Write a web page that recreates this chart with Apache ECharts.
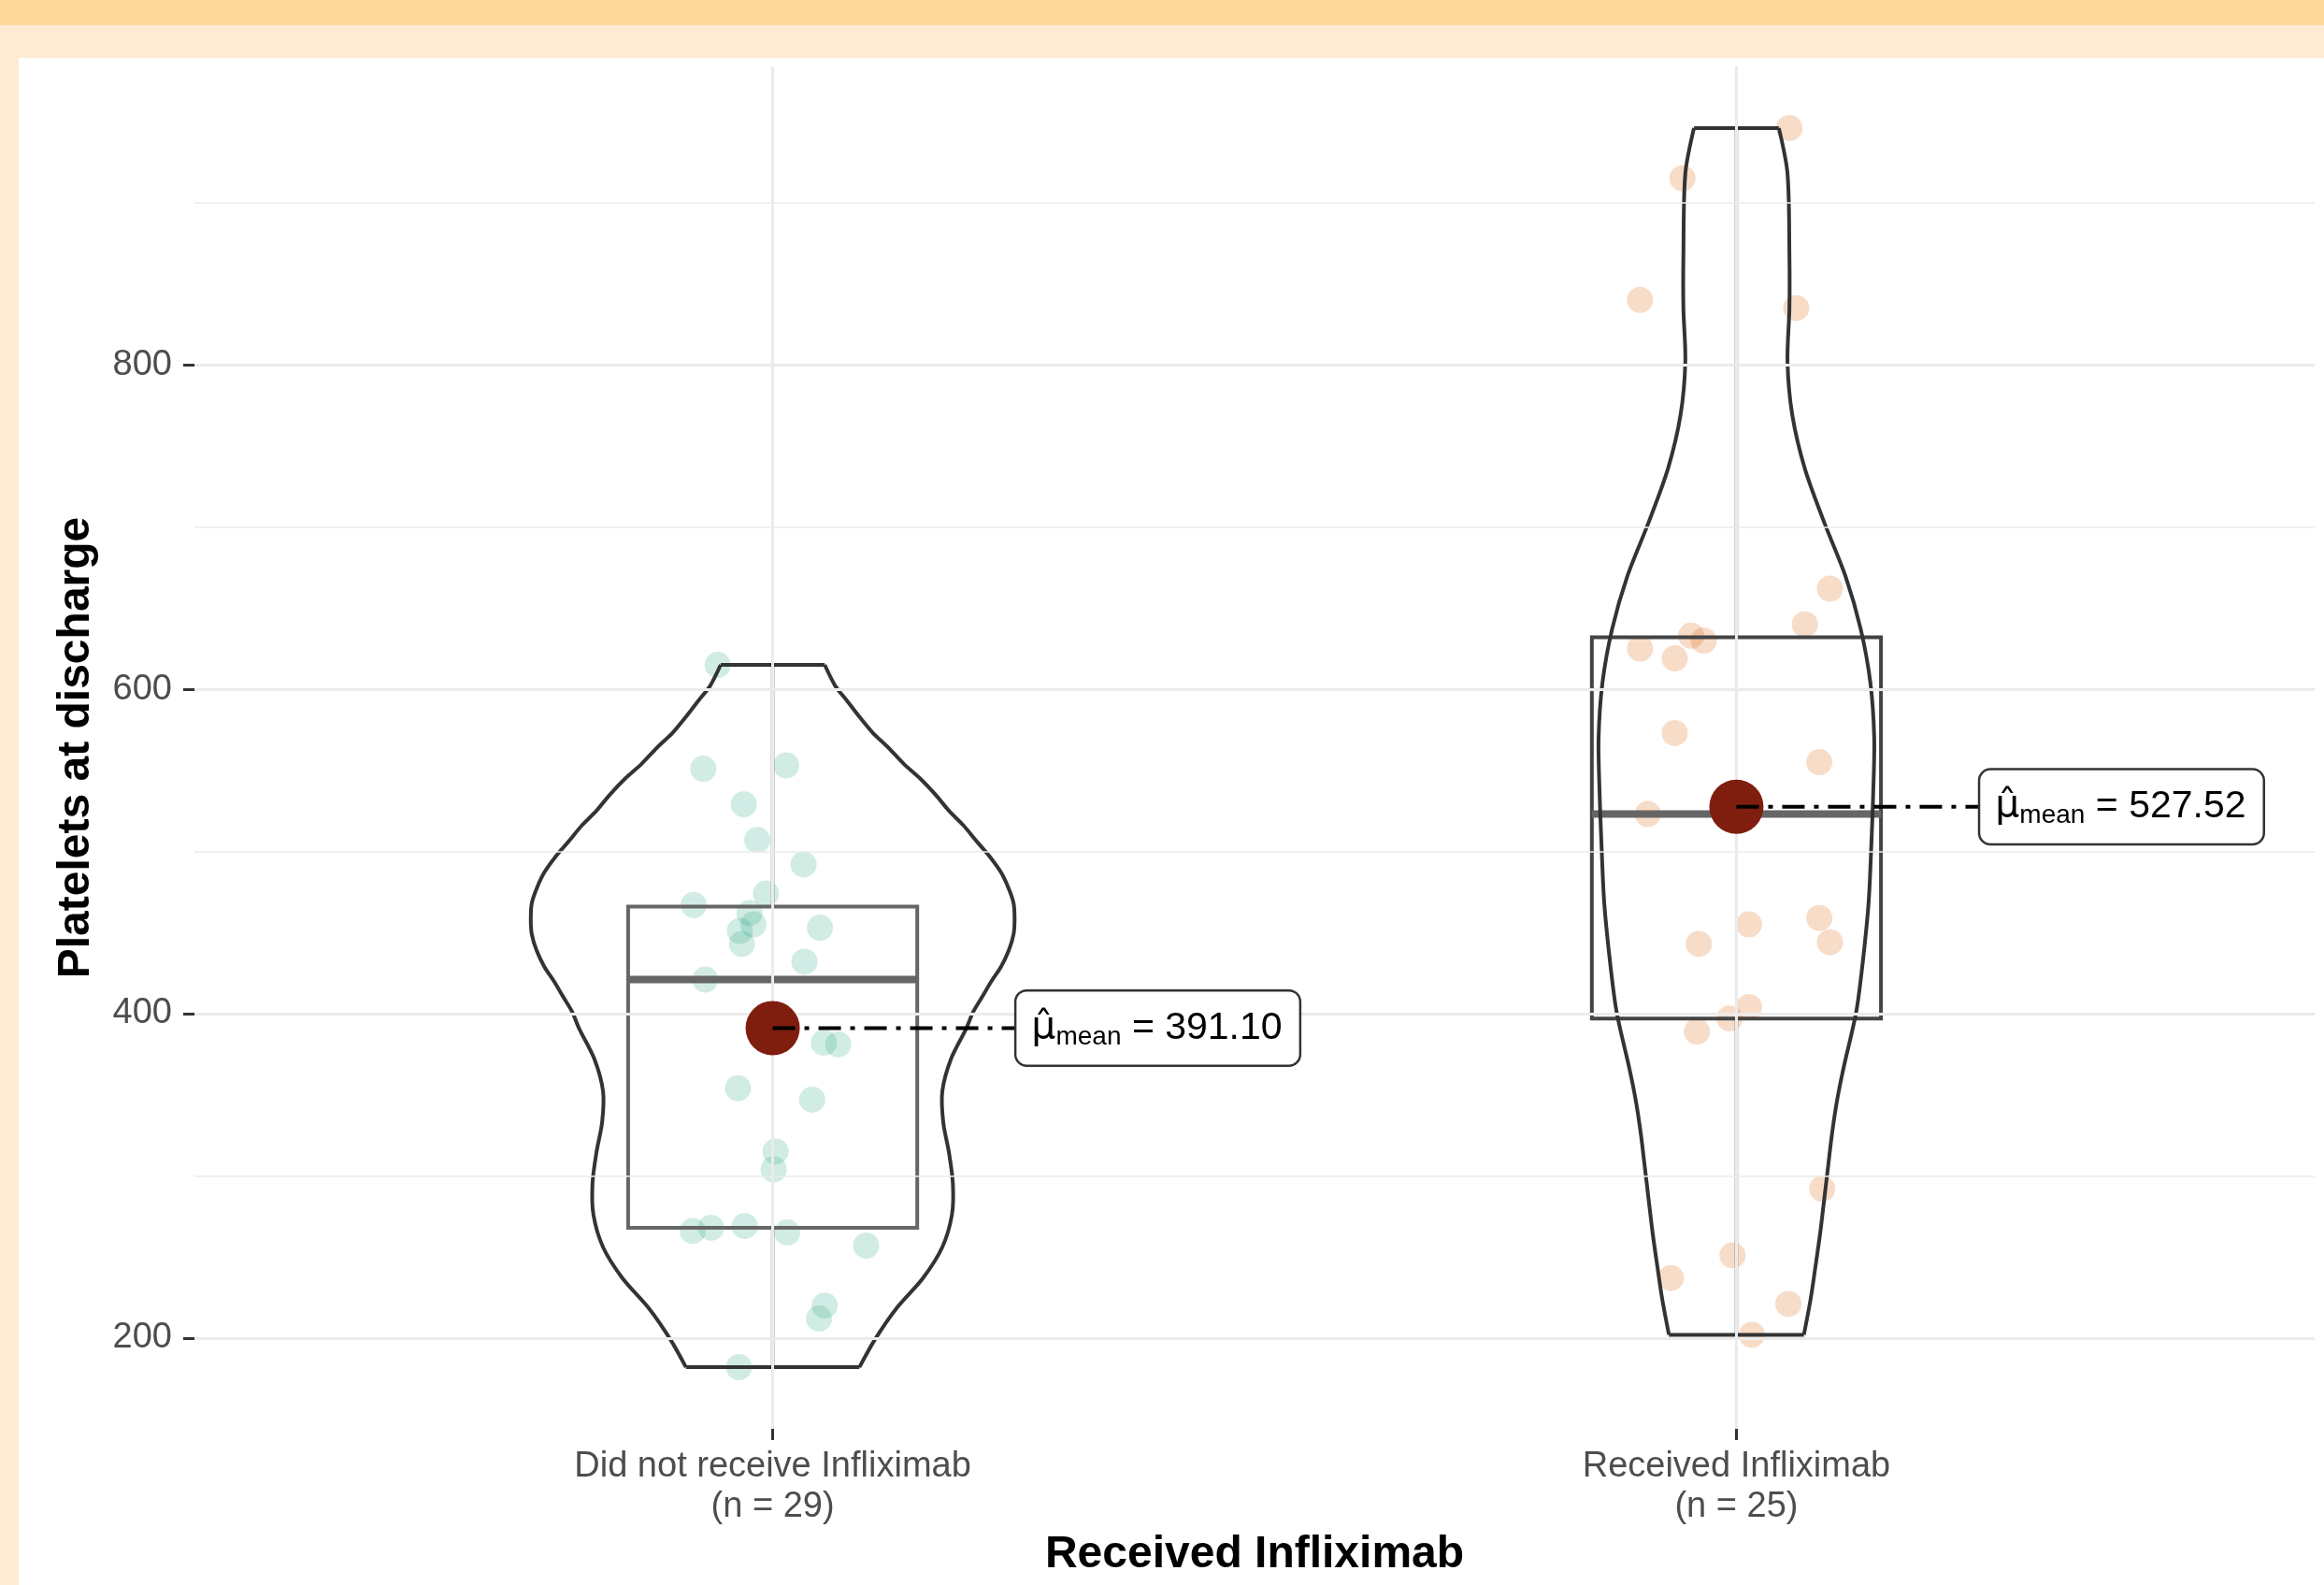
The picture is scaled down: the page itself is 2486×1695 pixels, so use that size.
<!DOCTYPE html>
<html>
<head>
<meta charset="utf-8">
<title>Platelets at discharge</title>
<script src="https://cdn.jsdelivr.net/npm/echarts@6/dist/echarts.min.js"></script>
<style>
    html, body { margin: 0; padding: 0; width: 2486px; height: 1695px; overflow: hidden; background: #feebd3; }
    #band { position: absolute; left: 0; top: 0; width: 2486px; height: 27px; background: #fdd89a; }
    #chart { position: absolute; left: 20px; top: 62px; width: 2466px; height: 1633px; background: #ffffff; }
</style>
</head>
<body>
<div id="band"></div>
<div id="chart"></div>
<script>
const categories = ['Did not receive Infliximab', 'Received Infliximab']
const groupSizes = [29, 25]
const yTicks = [200, 400, 600, 800]
const yMinorTicks = [300, 500, 700, 900]
const means = [391.10, 527.52]

// box plot statistics
const boxLow = [182, 202]
const boxQ1 = [268, 397]
const boxMedian = [421, 523]
const boxQ3 = [466, 632]
const boxHigh = [615, 946]

// jittered observations
const jitter1 = [0.943, 0.928, 1.014, 0.970, 0.984, 1.032, 0.918, 0.993, 0.976, 0.980, 0.966, 0.968, 1.049, 1.033, 0.930,
    1.053, 1.068, 0.964, 1.041, 1.003, 1.001, 0.917, 0.936, 0.971, 1.015, 1.097, 1.054, 1.048, 0.965]
const values1 = [615, 551, 553, 529, 507, 492, 467, 474, 462, 455, 451, 443, 453, 432, 421,
    382, 381, 354, 347, 315, 304, 266, 268, 269, 265, 257, 220, 212, 182]
const jitter2 = [2.055, 1.944, 1.900, 2.062, 2.097, 2.071, 1.900, 1.953, 1.966, 1.936, 1.936, 2.086, 1.908,
    2.013, 2.086, 2.097, 1.961, 2.013, 1.993, 1.959, 2.089, 1.996, 1.932, 2.054, 2.016]
const values2 = [946, 915, 840, 835, 662, 640, 625, 633, 630, 619, 573, 555, 523,
    455, 459, 444, 443, 404, 397, 389, 292, 251, 237, 221, 202]

// violin outline: value and half width (category units)
const violinY1 = [615, 602, 593, 583, 573, 564, 554, 545, 535, 525, 516, 506, 497, 487, 477, 468, 458, 449, 439, 429,
    420, 410, 401, 391, 372, 352, 333, 314, 295, 276, 256, 237, 218, 199, 182]
const violinHalf1 = [0.054, 0.065, 0.077, 0.090, 0.104, 0.120, 0.136, 0.153, 0.169, 0.183, 0.198, 0.212, 0.225, 0.237, 0.245,
    0.250, 0.251, 0.250, 0.245, 0.237, 0.227, 0.217, 0.208, 0.201, 0.185, 0.176, 0.177, 0.183, 0.187, 0.186,
    0.176, 0.156, 0.128, 0.106, 0.090]
const violinY2 = [946, 918, 868, 835, 802, 769, 736, 703, 670, 637, 604, 570, 537, 504, 467, 426, 400, 366, 345, 325, 305, 285, 265, 244, 224, 202]
const violinHalf2 = [0.044, 0.053, 0.055, 0.055, 0.053, 0.058, 0.071, 0.091, 0.113, 0.129, 0.139, 0.143, 0.142, 0.140, 0.137,
    0.130, 0.124, 0.111, 0.104, 0.099, 0.095, 0.091, 0.087, 0.082, 0.077, 0.070]

const violinY = [violinY1, violinY2]
const violinHalf = [violinHalf1, violinHalf2]

const font = 'Liberation Sans, Arial, Helvetica, sans-serif'
const gridColor = '#ebebeb'
const boxWidth = 0.15
const labelGap = 0.253

const myChart = echarts.init(document.getElementById('chart'))

function renderViolin(params, api) {
    const i = api.value(0)
    const cx = i + 1
    const ys = violinY[i]
    const hs = violinHalf[i]
    const right = ys.map((y, k) => api.coord([cx + hs[k], y]))
    const left = ys.map((y, k) => api.coord([cx - hs[k], y]))
    const style = { stroke: '#333333', lineWidth: 4, fill: null }
    const last = ys.length - 1
    return {
        type: 'group',
        children: [
            { type: 'polyline', shape: { points: right, smooth: 0.3 }, style },
            { type: 'polyline', shape: { points: left, smooth: 0.3 }, style },
            { type: 'line', shape: { x1: left[0][0], y1: left[0][1], x2: right[0][0], y2: right[0][1] }, style },
            { type: 'line', shape: { x1: left[last][0], y1: left[last][1], x2: right[last][0], y2: right[last][1] }, style }
        ]
    }
}

function renderBox(params, api) {
    const i = api.value(0)
    const cx = i + 1
    const tl = api.coord([cx - boxWidth, boxQ3[i]])
    const br = api.coord([cx + boxWidth, boxQ1[i]])
    const med1 = api.coord([cx - boxWidth, boxMedian[i]])
    const med2 = api.coord([cx + boxWidth, boxMedian[i]])
    const top = api.coord([cx, boxHigh[i]])
    const q3 = api.coord([cx, boxQ3[i]])
    const q1 = api.coord([cx, boxQ1[i]])
    const bottom = api.coord([cx, boxLow[i]])
    const boxStroke = i === 0 ? '#666666' : '#444444'
    const whisker = { stroke: '#666666', lineWidth: 3.5 }
    return {
        type: 'group',
        children: [
            { type: 'line', shape: { x1: top[0], y1: top[1], x2: q3[0], y2: q3[1] }, style: whisker },
            { type: 'line', shape: { x1: q1[0], y1: q1[1], x2: bottom[0], y2: bottom[1] }, style: whisker },
            { type: 'rect', shape: { x: tl[0], y: tl[1], width: br[0] - tl[0], height: br[1] - tl[1] },
                style: { stroke: boxStroke, lineWidth: 4, fill: null } },
            { type: 'line', shape: { x1: med1[0], y1: med1[1], x2: med2[0], y2: med2[1] },
                style: { stroke: '#666666', lineWidth: 8 } }
        ]
    }
}

function renderMeanLabel(params, api) {
    const x = api.value(0)
    const v = api.value(1)
    const c = api.coord([x, v])
    const lx = api.coord([x + labelGap, v])[0]
    return {
        type: 'group',
        children: [
            { type: 'line', shape: { x1: c[0], y1: c[1], x2: lx, y2: c[1] },
                style: { stroke: '#000000', lineWidth: 4, lineDash: [24, 10, 5, 10] } },
            {
                type: 'text',
                x: lx,
                y: c[1],
                style: {
                    text: '{mu|\u03bc\u0302}{sub|mean}{eq| = ' + v.toFixed(2) + '}',
                    fill: '#000000',
                    fontFamily: font,
                    fontSize: 41,
                    align: 'left',
                    verticalAlign: 'middle',
                    backgroundColor: '#ffffff',
                    borderColor: '#333333',
                    borderWidth: 2.5,
                    borderRadius: 11,
                    padding: [15, 18, 15, 16],
                    rich: {
                        mu: { fontSize: 41, lineHeight: 48, fontFamily: 'DejaVu Sans', fill: '#000' },
                        sub: { fontSize: 28, lineHeight: 24, verticalAlign: 'bottom', fontFamily: font, fill: '#000' },
                        eq: { fontSize: 41, lineHeight: 48, fontFamily: font, fill: '#000' }
                    }
                }
            }
        ]
    }
}

const gridLines = [
    ...yTicks.map(v => ({ yAxis: v, lineStyle: { color: gridColor, width: 3, type: 'solid' } })),
    ...yMinorTicks.map(v => ({ yAxis: v, lineStyle: { color: gridColor, width: 1.6, type: 'solid' } })),
    ...[1, 2].map(v => ({ xAxis: v, lineStyle: { color: gridColor, width: 3, type: 'solid' } }))
]

const option = {
    animation: false,
    backgroundColor: '#ffffff',
    grid: { left: 188, right: 10, top: 9, bottom: 167 },
    xAxis: {
        type: 'value',
        min: 0.4,
        max: 2.6,
        name: 'Received Infliximab',
        nameLocation: 'middle',
        nameGap: 111,
        nameTextStyle: { fontFamily: font, fontSize: 48, fontWeight: 'bold', color: '#000000' },
        axisLine: { show: false },
        splitLine: { show: false },
        axisTick: { show: true, customValues: [1, 2], length: 12, lineStyle: { color: '#333333', width: 3 } },
        axisLabel: {
            customValues: [1, 2],
            margin: 19,
            fontFamily: font,
            fontSize: 38,
            lineHeight: 43,
            color: '#4d4d4d',
            formatter: v => categories[Math.round(v) - 1] + '\n(n = ' + groupSizes[Math.round(v) - 1] + ')'
        }
    },
    yAxis: {
        type: 'value',
        min: 144,
        max: 984,
        name: 'Platelets at discharge',
        nameLocation: 'middle',
        nameGap: 102,
        nameTextStyle: { fontFamily: font, fontSize: 48, fontWeight: 'bold', color: '#000000' },
        axisLine: { show: false },
        splitLine: { show: false },
        axisTick: { show: true, customValues: yTicks, length: 12, lineStyle: { color: '#333333', width: 3 } },
        axisLabel: { customValues: yTicks, margin: 24, fontFamily: font, fontSize: 38, color: '#4d4d4d' }
    },
    series: [
        {
            name: 'grid',
            type: 'line',
            data: [],
            z: 1,
            silent: true,
            markLine: { silent: true, symbol: ['none', 'none'], label: { show: false }, data: gridLines }
        },
        {
            name: categories[0],
            type: 'scatter',
            z: 2,
            symbolSize: 28,
            itemStyle: { color: 'rgba(27, 158, 119, 0.25)' },
            data: jitter1.map((x, k) => [x, values1[k]])
        },
        {
            name: categories[1],
            type: 'scatter',
            z: 2,
            symbolSize: 28,
            itemStyle: { color: 'rgba(217, 95, 2, 0.27)' },
            data: jitter2.map((x, k) => [x, values2[k]])
        },
        { name: 'box', type: 'custom', z: 3, renderItem: renderBox, data: [[0], [1]] },
        { name: 'violin', type: 'custom', z: 4, renderItem: renderViolin, data: [[0], [1]] },
        {
            name: 'mean',
            type: 'scatter',
            z: 5,
            symbolSize: 58,
            itemStyle: { color: '#7f1d0f', opacity: 1 },
            data: means.map((m, k) => [k + 1, m])
        },
        { name: 'meanLabel', type: 'custom', z: 6, renderItem: renderMeanLabel, data: means.map((m, k) => [k + 1, m]) }
    ]
}

myChart.setOption(option)
window.addEventListener('resize', () => myChart.resize())
</script>
</body>
</html>
